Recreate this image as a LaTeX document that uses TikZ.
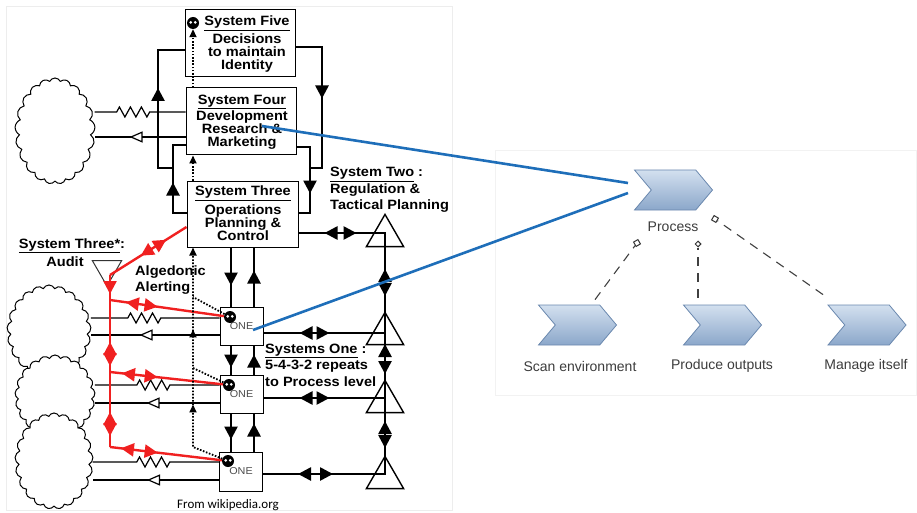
\documentclass[tikz,border=0pt]{standalone}
\usepackage{fontspec}
\setmainfont{Liberation Sans}
\newfontfamily\vsmfont[FakeStretch=1.08]{Liberation Sans}
\newfontfamily\srcfont{Carlito}
\usetikzlibrary{arrows.meta,decorations.markings,decorations.pathmorphing,shapes.symbols,shapes.geometric,positioning}

\definecolor{linkblue}{HTML}{1E6EB9}
\definecolor{algred}{HTML}{F02020}
\definecolor{chevtop}{HTML}{D3E0EF}
\definecolor{chevbot}{HTML}{8BA7CA}
\definecolor{chevedge}{HTML}{6A88AE}
\definecolor{lbl}{HTML}{3C3C3C}

\tikzset{
  tri/.tip={Triangle[width=13pt,length=13pt]},
  dtri/.tip={Triangle[width=7pt,length=8pt]},
  mk/.style={postaction={decorate,decoration={markings,mark=at position #1 with {\arrow{tri}}}}},
  mkr/.style={postaction={decorate,decoration={markings,mark=at position #1 with {\arrowreversed{tri}}}}},
  dmk/.style={postaction={decorate,decoration={markings,mark=at position #1 with {\arrow{dtri}}}}},
  hol/.style={postaction={decorate,decoration={markings,mark=at position #1 with {\arrow{Triangle[width=11pt,length=13pt,fill=white]}}}}},
  zz/.style 2 args={decorate,decoration={zigzag,segment length=11pt,amplitude=5pt,pre length=#1,post length=#2}},
  thk/.style={line width=2.6pt},
  wire/.style={line width=1.2pt},
  alert/.style={line width=1.8pt,dash pattern=on 1.6pt off 1.6pt},
  alg/.style={algred,line width=2.4pt},
  sysbox/.style={draw,line width=1pt,minimum width=110pt,minimum height=67pt,inner sep=0pt},
  opbox/.style={draw,line width=1pt,minimum width=43pt,minimum height=38pt,inner sep=0pt,
    font=\vsmfont\fontsize{10}{10}\selectfont,text=black!70},
  systxt/.style={align=center,inner sep=0pt,font=\vsmfont\bfseries\fontsize{13.5}{13}\selectfont},
  note/.style={align=left,inner sep=0pt,font=\vsmfont\bfseries\fontsize{13.5}{16.5}\selectfont},
  eye/.style={circle,fill=black,minimum size=12pt,inner sep=0pt,
    path picture={\fill[white] ([xshift=-2.3pt,yshift=0.6pt]path picture bounding box.center) circle (1.5pt)
      ([xshift=2.3pt,yshift=0.6pt]path picture bounding box.center) circle (1.5pt);}},
  env/.style={cloud,cloud puffs=21,cloud puff arc=130,cloud ignores aspect,draw,line width=1pt,fill=white,inner sep=0pt},
  reg/.style={regular polygon,regular polygon sides=3,minimum size=43pt,draw,line width=1.4pt,inner sep=0pt,anchor=corner 1},
  audit/.style={regular polygon,regular polygon sides=3,regular polygon rotate=180,minimum size=34pt,draw=black!80,
    line width=1pt,inner sep=0pt,anchor=corner 1},
  chev/.style={signal,signal to=east,signal from=west,signal pointer angle=100,minimum width=78pt,minimum height=40pt,
    draw=chevedge,line width=0.8pt,top color=chevtop,bottom color=chevbot,inner sep=0pt},
  chevlbl/.style={text=lbl,font=\fontsize{14}{14}\selectfont,inner sep=0pt},
  dep/.style={black!75,line width=1.1pt,dash pattern=on 9pt off 7pt},
  endmk/.style={draw=black!80,fill=white,line width=1pt,minimum size=5pt,inner sep=0pt},
  link/.style={linkblue,line width=2.6pt},
}

\begin{document}
\begin{tikzpicture}[x=1pt,y=-1pt]
\useasboundingbox (0,0) rectangle (917,513);
\draw[black!7] (6,6) rectangle (452,510);
\draw[black!5] (495,150) rectangle (916,395);

% viable system model
\node[sysbox] (s5) at (240,43.5) {};
\node[sysbox] (s4) at (241,121.5) {};
\node[sysbox,minimum width=111pt,minimum height=66pt] (s3) at (242.5,214) {};
\node[systxt] (s5t) at (247,44) {\underline{System Five}\\[2pt]Decisions\\to maintain\\Identity};
\node[systxt] (s4t) at (242,122) {\underline{System Four}\\Development\\Research \&\\Marketing};
\node[systxt] (s3t) at (243,213) {\underline{System Three}\\[3pt]Operations\\Planning \&\\Control};
\node[eye] (eye5) at (193,23) {};

\node[opbox] (op1) at (241.5,326) {\raisebox{-4pt}{ONE}};
\node[opbox] (op2) at (241.5,394) {\raisebox{-4pt}{ONE}};
\node[opbox,minimum height=39pt] (op3) at (241,471.5) {\raisebox{-4pt}{ONE}};
\node[eye] (eye1) at (230,317) {};
\node[eye] (eye2) at (229,385) {};
\node[eye] (eye3) at (228,461) {};

\node[reg] (reg0) at (385,213) {};
\node[reg] (reg1) at (385,311) {};
\node[reg] (reg2) at (385,379) {};
\node[reg] (reg3) at (385,455) {};
\coordinate (s2in) at (385,233);
\coordinate (j1) at (385,333);
\coordinate (j2) at (385,398);
\coordinate (j3) at (385,474);

\node[env,minimum width=80pt,minimum height=106pt] (envTop) at (55,131) {};
\node[env,minimum width=84pt,minimum height=92pt] (env1) at (49,331) {};
\node[env,minimum width=80pt,minimum height=82pt] (env2) at (55,396) {};
\node[env,minimum width=78pt,minimum height=96pt] (env3) at (54,461) {};

% 3-4-5 loops
\draw[thk,mk=44pt] (s3.west |- 0,213) -- (173,213) -- (173,145) -- (s4.west |- 0,145);
\draw[thk,mk=95pt] (173,168) -- (158,168) -- (158,50) -- (s5.west |- 0,50);
\draw[thk,mk=78pt] (s5.east |- 0,47) -- (322,47) -- (322,168) -- (310,168);
\draw[thk,mk=60pt] (s4.east |- 0,147) -- (310,147) -- (310,213) -- (s3.east |- 0,213);

% command channel
\draw[thk,mk=38pt] (s3.south -| 231,0) -- (op1.north -| 231,0);
\draw[thk,mk=36pt] (op1.north -| 254,0) -- (s3.south -| 254,0);
\draw[thk,mk=22pt] (op1.south -| 231,0) -- (op2.north -| 231,0);
\draw[thk,mk=20pt] (op2.north -| 254,0) -- (op1.south -| 254,0);
\draw[thk,mk=26pt] (op2.south -| 231,0) -- (op3.north -| 231,0);
\draw[thk,mk=28pt] (op3.north -| 254,0) -- (op2.south -| 254,0);

% system two
\draw[thk,mkr=26pt,mk=58pt] (s3.east |- s2in) -- (s2in);
\draw[thk,mkr=36pt,mk=66pt] (op1.east |- j1) -- (j1);
\draw[thk,mkr=36pt,mk=66pt] (op2.east |- j2) -- (j2);
\draw[thk,mkr=35pt,mk=70pt] (op3.east |- j3) -- (j3);
\draw[thk,line cap=rect,mkr=36pt,mk=63pt,mkr=111pt,mk=141pt,mkr=188pt,mk=215pt] (s2in) -- (j3);

% environment
\draw[wire,zz={22pt}{31pt}] (envTop.east |- 0,112) -- (s4.west |- 0,112);
\draw[wire,hol=56pt] (s4.west |- 0,137) -- (envTop.east |- 0,137);
\draw[wire,zz={37pt}{57pt}] (env1.east |- 0,318) -- (op1.west |- 0,318);
\draw[wire,hol=80pt] (op1.west |- 0,335) -- (env1.east |- 0,335);
\draw[wire,zz={42pt}{47pt}] (env2.east |- 0,385) -- (op2.west |- 0,385);
\draw[wire,hol=73pt] (op2.west |- 0,403) -- (env2.east |- 0,403);
\draw[wire,zz={44pt}{47pt}] (env3.east |- 0,462) -- (op3.west |- 0,462);
\draw[wire,hol=72pt] (op3.west |- 0,480) -- (env3.east |- 0,480);

% audit
\node[audit] (auditTri) at (107,287) {};
\coordinate (trunkTop) at (110,275);
\coordinate (trunk1) at (110,300);
\coordinate (trunk2) at (110,372);
\coordinate (trunk3) at (110,447);
\draw[alg,mkr=24pt,mk=54pt] (s3.west |- 0,227) -- (trunkTop);
\draw[alg,mk=19pt,mkr=67pt,mk=91pt,mkr=137pt,mk=161pt] (trunkTop) -- (trunk3);
\draw[alg,mkr=16pt,mk=48pt] (trunk1) -- (eye1);
\draw[alg,mkr=12pt,mk=48pt] (trunk2) -- (eye2);
\draw[alg,mkr=11pt,mk=48pt] (trunk3) -- (eye3);

% algedonic signals
\coordinate (alert1) at (193,297);
\coordinate (alert2) at (193,368);
\coordinate (alert3) at (193,447);
\draw[alert] (eye1) -- (alert1);
\draw[alert] (eye2) -- (alert2);
\draw[alert,-{dtri},dmk=74pt,dmk=149pt] (eye3) -- (alert3) -- (s3.south -| alert3);
\draw[alert,-{dtri}] (s3.north -| alert3) -- (s4.south -| alert3);
\draw[alert,-{dtri}] (s4.north -| alert3) -- (eye5);

\node[note,anchor=west] (s2t) at (330,190) {\underline{System Two} :\\Regulation \&\\Tactical Planning};
\node[note,anchor=west] (s1t) at (265,365) {\underline{Systems One} :\\5-4-3-2 repeats\\to Process level};
\node[note,anchor=west,font=\vsmfont\bfseries\fontsize{13.5}{16}\selectfont] (algt) at (135,280) {Algedonic\\Alerting};
\node[note] (s3st) at (72,246) {\underline{System Three*}:};
\node[note] (auditt) at (65,262) {Audit};
\node[font=\srcfont\fontsize{13}{13}\selectfont,inner sep=0pt] (src) at (228,505) {From wikipedia.org};

% process hierarchy
\node[chev] (proc) at (673.5,190) {};
\node[chev] (scan) at (577.5,325) {};
\node[chev] (prod) at (722.5,325) {};
\node[chev] (mng) at (867,325) {};
\node[chevlbl] (procl) at (673,227) {Process};
\node[chevlbl] (scanl) at (580,366) {Scan environment};
\node[chevlbl] (prodl) at (722,366) {Produce outputs};
\node[chevlbl] (mngl) at (866,366) {Manage itself};
\node[endmk,rotate=30] (m1) at (637,243) {};
\node[endmk,diamond,minimum size=6pt] (m2) at (698,244) {};
\node[endmk,rotate=-30] (m3) at (715,219) {};
\coordinate (scanTop) at ([xshift=17.5pt,yshift=5pt]scan.north);
\coordinate (prodTop) at ([xshift=-24.5pt,yshift=7pt]prod.north);
\coordinate (mngTop) at ([xshift=-44pt,yshift=10pt]mng.north);
\draw[dep] (scanTop) -- (m1);
\draw[dep] (prodTop) -- (m2);
\draw[dep] (mngTop) -- (m3);

% mapping
\coordinate (s4hook) at ([xshift=21pt,yshift=-4.5pt]s4.center);
\coordinate (op1hook) at ([xshift=11.5pt,yshift=-4pt]op1.center);
\draw[link] (s4hook) -- ([xshift=-45.5pt,yshift=7pt]proc.center);
\draw[link] (op1hook) -- ([xshift=-45.5pt,yshift=-3pt]proc.center);
\end{tikzpicture}
\end{document}
